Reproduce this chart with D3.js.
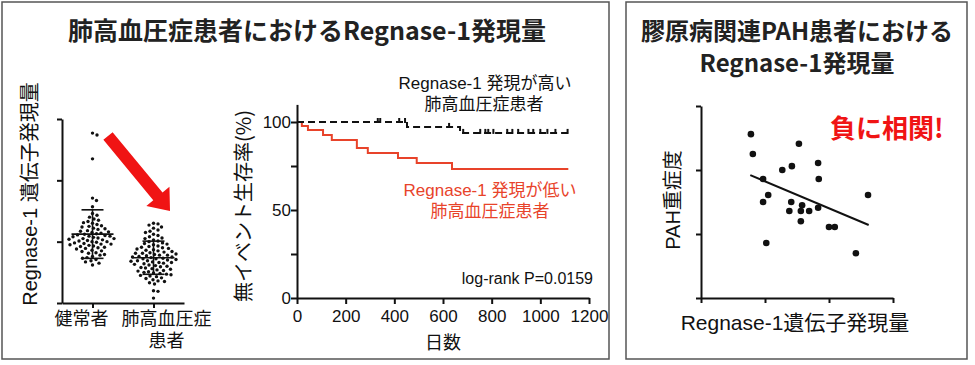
<!DOCTYPE html>
<html>
<head>
<meta charset="utf-8">
<title>Regnase-1</title>
<script src="https://cdn.jsdelivr.net/npm/d3@7"></script>
<style>
    body{ margin:0; background:#fff; }
    svg text{ font-family:"Liberation Sans","Noto Sans CJK JP",sans-serif; fill:#111; }
    svg text.jp{ font-family:"Noto Sans CJK JP",sans-serif; }
    .axis path, .axis line{ stroke:#111; stroke-width:2; }
</style>
</head>
<body>
<svg id="fig" width="975" height="365"></svg>
<script>
// ---- dot plot (Regnase-1 expression) ----
var groups = ["健常者", "肺高血圧症患者"]
var healthy = [2.77, 2.74, 2.35, 1.71, 1.67, 1.57,
    1.46, 1.43, 1.40, 1.37, 1.35, 1.33, 1.31, 1.30, 1.28, 1.26, 1.25, 1.24, 1.22, 1.21,
    1.20, 1.18, 1.17, 1.16, 1.15, 1.14, 1.13, 1.12, 1.11, 1.10, 1.09, 1.09, 1.08, 1.07,
    1.06, 1.05, 1.05, 1.04, 1.03, 1.02, 1.01, 1.00, 1.00, 0.99, 0.98, 0.97, 0.96, 0.96,
    0.95, 0.94, 0.93, 0.92, 0.91, 0.90, 0.89, 0.88, 0.86, 0.85, 0.84, 0.82, 0.81, 0.79,
    0.78, 0.76, 0.74, 0.73, 0.71, 0.69, 0.67, 0.65, 0.62]
var pah = [1.30, 1.29, 1.27, 1.24, 1.22, 1.19, 1.17, 1.15, 1.12, 1.10, 1.08, 1.06, 1.05,
    1.03, 1.01, 1.00, 0.98, 0.97, 0.96, 0.95, 0.93, 0.92, 0.91, 0.90, 0.89, 0.88, 0.87,
    0.86, 0.85, 0.84, 0.83, 0.82, 0.81, 0.81, 0.80, 0.79, 0.78, 0.78, 0.77, 0.76, 0.75,
    0.75, 0.74, 0.73, 0.72, 0.72, 0.71, 0.70, 0.69, 0.69, 0.68, 0.67, 0.66, 0.66, 0.65,
    0.64, 0.63, 0.62, 0.61, 0.60, 0.59, 0.58, 0.57, 0.56, 0.55, 0.54, 0.53, 0.52, 0.51,
    0.50, 0.49, 0.48, 0.47, 0.46, 0.45, 0.44, 0.43, 0.41, 0.40, 0.38, 0.36, 0.35, 0.33,
    0.31, 0.20, 0.19, 0.08]
var dotTicks = [0, 1, 2, 3]

// ---- Kaplan-Meier ----
var kmHighT = [0, 452, 670, 1115]
var kmHighS = [100, 97.2, 93.8, 93.8]
var kmHighCensorT = [332, 342, 420, 444, 625, 683, 753, 774, 786, 807, 864, 885, 909, 951, 971, 1000, 1029, 1062, 1112]
var kmLowT = [0, 20, 45, 107, 143, 246, 291, 415, 492, 637, 1115]
var kmLowS = [100, 97.7, 95.5, 92.6, 89.8, 85.2, 82.4, 79.5, 76.7, 73.3, 73.3]
var kmXTicks = [0, 200, 400, 600, 800, 1000, 1200]
var kmYTicks = [0, 25, 50, 75, 100]
var kmYLabelled = [0, 50, 100]

// ---- scatter (collagen disease PAH) ----
var scatX = [0.78, 0.81, 1.53, 1.27, 1.42, 1.83, 0.97, 1.84, 1.05, 0.97, 1.41, 1.58, 1.38, 1.56, 1.69, 1.83, 1.56, 2.61, 2.00, 2.09, 1.02, 2.42]
var scatY = [2.56, 2.25, 2.41, 2.00, 2.06, 2.11, 1.86, 1.86, 1.61, 1.50, 1.50, 1.45, 1.36, 1.36, 1.36, 1.41, 1.20, 1.61, 1.11, 1.11, 0.86, 0.70]
var fitX = [0.77, 2.62]
var fitY = [1.92, 1.14]
var scatTicks = [0, 1, 2, 3]

var svg = d3.select("#fig")
var red = "#f01414"
var kmRed = "#e8432a"

// panel frames
svg.append("rect").attr("x", 2).attr("y", 2).attr("width", 607).attr("height", 357)
    .attr("fill", "none").attr("stroke", "#555").attr("stroke-width", 1.5)
svg.append("rect").attr("x", 626).attr("y", 2).attr("width", 341).attr("height", 357)
    .attr("fill", "none").attr("stroke", "#555").attr("stroke-width", 1.5)

// titles
svg.append("text").attr("class", "jp").text("肺高血圧症患者におけるRegnase-1発現量")
    .attr("x", 307).attr("y", 40).attr("text-anchor", "middle")
    .style("font-size", "25px").style("font-weight", "bold").style("fill", "#222")
svg.append("text").attr("class", "jp").text("膠原病関連PAH患者における")
    .attr("x", 797).attr("y", 40).attr("text-anchor", "middle")
    .style("font-size", "24px").style("font-weight", "bold").style("fill", "#222")
svg.append("text").attr("class", "jp").text("Regnase-1発現量")
    .attr("x", 797).attr("y", 72).attr("text-anchor", "middle")
    .style("font-size", "24px").style("font-weight", "bold").style("fill", "#222")

// ================= dot plot =================
var dx = d3.scalePoint().domain(groups).range([62, 184]).padding(0.5)
var dy = d3.scaleLinear().domain([0, 3]).range([303, 119])

svg.append("g").attr("class", "axis").attr("transform", "translate(62,0)")
    .call(d3.axisLeft(dy).tickValues(dotTicks).tickFormat("").tickSize(5).tickSizeOuter(0))
svg.append("g").attr("class", "axis").attr("transform", "translate(0,303)")
    .call(d3.axisBottom(dx).tickFormat("").tickSize(5).tickSizeOuter(0))

svg.append("text").text("Regnase-1 遺伝子発現量")
    .attr("transform", "translate(37,194) rotate(-90)").attr("text-anchor", "middle")
    .style("font-size", "20px")

// category labels
svg.append("text").text("健常者")
    .attr("x", dx(groups[0]) - 11).attr("y", 325).attr("text-anchor", "middle").style("font-size", "18px")
svg.append("text").text("肺高血圧症")
    .attr("x", dx(groups[1]) + 13).attr("y", 325).attr("text-anchor", "middle").style("font-size", "18px")
svg.append("text").text("患者")
    .attr("x", dx(groups[1]) + 13).attr("y", 347).attr("text-anchor", "middle").style("font-size", "18px")

// simple beeswarm, positions come from the y scale
function swarm(values, cx, gap) {
    var pts = values.map(function(v){ return {v: v, y: dy(v)} }).sort(function(a, b){ return a.y - b.y })
    var placed = []
    pts.forEach(function(p){
        var best = 0
        for (var k = 0; k < 200; k++) {
            var off = (k % 2 ? 1 : -1) * Math.ceil(k / 2) * 0.5
            var ok = placed.every(function(q){
                var ddx = q.x - (cx + off), ddy = q.y - p.y
                return ddx * ddx + ddy * ddy >= gap * gap
            })
            if (ok) { best = off; break }
        }
        p.x = cx + best
        placed.push(p)
    })
    return placed
}

var dotSets = [healthy, pah]
dotSets.forEach(function(vals, i){
    var cx = dx(groups[i])
    var g = svg.append("g")
    g.selectAll("circle").data(swarm(vals, cx, 4.5)).enter().append("circle")
        .attr("cx", function(d){ return d.x }).attr("cy", function(d){ return d.y })
        .attr("r", 1.7).attr("fill", "#111")
    var m = d3.mean(vals), sd = d3.deviation(vals)
    g.append("line").attr("x1", cx - 21).attr("x2", cx + 21).attr("y1", dy(m)).attr("y2", dy(m))
        .attr("stroke", "#111").attr("stroke-width", 1.6)
    g.append("line").attr("x1", cx).attr("x2", cx).attr("y1", dy(m - sd)).attr("y2", dy(m + sd))
        .attr("stroke", "#111").attr("stroke-width", 1.6)
    ;[m - sd, m + sd].forEach(function(v){
        g.append("line").attr("x1", cx - 11).attr("x2", cx + 11).attr("y1", dy(v)).attr("y2", dy(v))
            .attr("stroke", "#111").attr("stroke-width", 1.6)
    })
})

// red arrow
;(function(){
    var x0 = 108, y0 = 136, x1 = 170, y1 = 211
    var len = Math.hypot(x1 - x0, y1 - y0), ux = (x1 - x0) / len, uy = (y1 - y0) / len
    var nx = -uy, ny = ux
    var sw = 6, hw = 15, hl = 19
    var bx = x1 - ux * hl, by = y1 - uy * hl
    var pts = [[x0 + nx * sw, y0 + ny * sw], [bx + nx * sw, by + ny * sw], [bx + nx * hw, by + ny * hw],
        [x1, y1], [bx - nx * hw, by - ny * hw], [bx - nx * sw, by - ny * sw], [x0 - nx * sw, y0 - ny * sw]]
    svg.append("polygon").attr("points", pts.map(function(p){ return p.join(",") }).join(" ")).attr("fill", red)
})()

// ================= Kaplan-Meier =================
var kx = d3.scaleLinear().domain([0, 1200]).range([297, 589])
var ky = d3.scaleLinear().domain([0, 110]).range([298, 104.4])

var kmXAxis = svg.append("g").attr("class", "axis").attr("transform", "translate(0,298)")
    .call(d3.axisBottom(kx).tickValues(kmXTicks).tickFormat(d3.format("d")).tickSize(6).tickSizeOuter(0))
kmXAxis.selectAll("text").style("font-size", "17px").attr("dy", "0.9em")
var kmYAxis = svg.append("g").attr("class", "axis").attr("transform", "translate(297,0)")
    .call(d3.axisLeft(ky).tickValues(kmYTicks).tickSize(6).tickSizeOuter(0)
        .tickFormat(function(d){ return kmYLabelled.indexOf(d) > -1 ? d : "" }))
kmYAxis.selectAll("text").style("font-size", "17px").attr("x", -6)

svg.append("text").attr("class", "jp").text("日数").attr("x", 443).attr("y", 349)
    .attr("text-anchor", "middle").style("font-size", "18px")
svg.append("text").attr("class", "jp").text("無イベント生存率(%)")
    .attr("transform", "translate(251,206) rotate(-90)").attr("text-anchor", "middle")
    .style("font-size", "20px")

var step = d3.line().curve(d3.curveStepAfter)
    .x(function(d){ return kx(d[0]) }).y(function(d){ return ky(d[1]) })

svg.append("path").datum(d3.zip(kmLowT, kmLowS)).attr("d", step)
    .attr("fill", "none").attr("stroke", kmRed).attr("stroke-width", 2)
svg.append("path").datum(d3.zip(kmHighT, kmHighS)).attr("d", step)
    .attr("fill", "none").attr("stroke", "#111").attr("stroke-width", 2).attr("stroke-dasharray", "7,4")

function survAt(t) {
    var s = kmHighS[0]
    for (var i = 0; i < kmHighT.length; i++) if (kmHighT[i] <= t) s = kmHighS[i]
    return s
}
svg.append("g").selectAll("line").data(kmHighCensorT).enter().append("line")
    .attr("x1", function(d){ return kx(d) }).attr("x2", function(d){ return kx(d) })
    .attr("y1", function(d){ return ky(survAt(d)) - 4 }).attr("y2", function(d){ return ky(survAt(d)) + 1 })
    .attr("stroke", "#111").attr("stroke-width", 2)

svg.append("text").text("Regnase-1 発現が高い").attr("x", 485).attr("y", 89)
    .attr("text-anchor", "middle").style("font-size", "17px")
svg.append("text").text("肺高血圧症患者").attr("x", 484).attr("y", 110)
    .attr("text-anchor", "middle").style("font-size", "17px")
svg.append("text").text("Regnase-1 発現が低い").attr("x", 490).attr("y", 196)
    .attr("text-anchor", "middle").style("font-size", "17px").style("fill", kmRed)
svg.append("text").text("肺高血圧症患者").attr("x", 490).attr("y", 217)
    .attr("text-anchor", "middle").style("font-size", "17px").style("fill", kmRed)
svg.append("text").text("log-rank P=0.0159").attr("x", 593).attr("y", 284)
    .attr("text-anchor", "end").style("font-size", "16px")

// ================= scatter =================
var sx = d3.scaleLinear().domain([0, 3]).range([701, 893])
var sy = d3.scaleLinear().domain([0, 3]).range([298, 106])

svg.append("g").attr("class", "axis").attr("transform", "translate(0,298)")
    .call(d3.axisBottom(sx).tickValues(scatTicks).tickFormat("").tickSize(5).tickSizeOuter(0))
svg.append("g").attr("class", "axis").attr("transform", "translate(701,0)")
    .call(d3.axisLeft(sy).tickValues(scatTicks).tickFormat("").tickSize(5).tickSizeOuter(0))

svg.append("line").attr("x1", sx(fitX[0])).attr("y1", sy(fitY[0]))
    .attr("x2", sx(fitX[1])).attr("y2", sy(fitY[1]))
    .attr("stroke", "#111").attr("stroke-width", 2)

svg.append("g").selectAll("circle").data(d3.zip(scatX, scatY)).enter().append("circle")
    .attr("cx", function(d){ return sx(d[0]) }).attr("cy", function(d){ return sy(d[1]) })
    .attr("r", 3.3).attr("fill", "#111")

svg.append("text").attr("class", "jp").text("負に相関!").attr("x", 830).attr("y", 138)
    .style("font-size", "26px").style("font-weight", "bold").style("fill", red)
svg.append("text").text("Regnase-1遺伝子発現量").attr("x", 795).attr("y", 330)
    .attr("text-anchor", "middle").style("font-size", "21px")
svg.append("text").text("PAH重症度").attr("transform", "translate(680,200) rotate(-90)")
    .attr("text-anchor", "middle").style("font-size", "20px")
</script>
</body>
</html>
